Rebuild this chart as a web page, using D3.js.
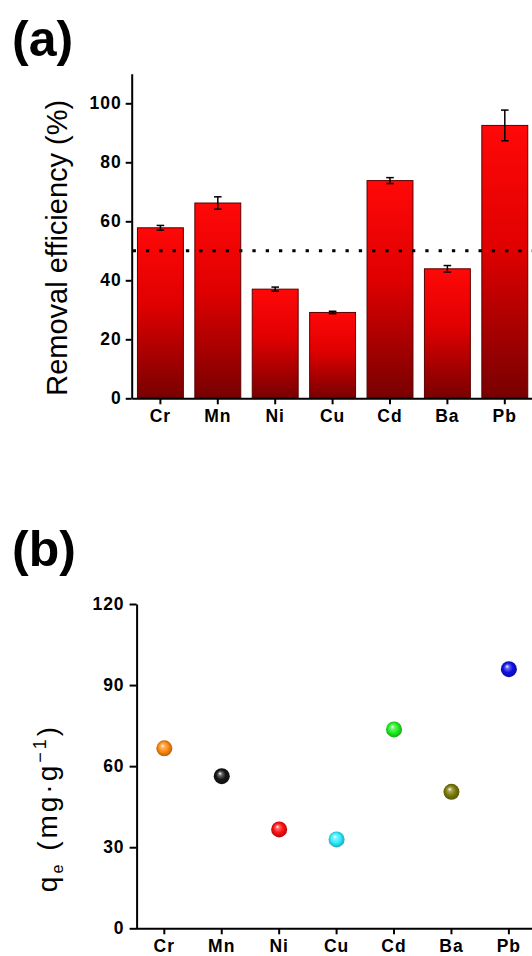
<!DOCTYPE html>
<html>
<head>
<meta charset="utf-8">
<script src="https://cdn.jsdelivr.net/npm/d3@7"></script>
<style>
  html, body { margin: 0; padding: 0; background: #fff; }
  svg { display: block; font-family: "Liberation Sans", Arial, sans-serif; }
  .tick text { font-weight: bold; font-size: 17.5px; letter-spacing: 1px; fill: #000; }
  .domain, .tick line { stroke: #000; stroke-width: 2px; }
</style>
</head>
<body>
<svg id="chart" width="532" height="956"></svg>
<script>
// data
const metals = ["Cr", "Mn", "Ni", "Cu", "Cd", "Ba", "Pb"];
const removal = [57.8, 66.2, 37.0, 29.1, 73.8, 43.9, 92.5];
const removalErr = [0.8, 2.1, 0.7, 0.4, 1.0, 1.1, 5.2];
const threshold = 50;
const qe = [66.6, 56.3, 36.6, 32.9, 73.6, 50.5, 95.9];
const dotColors = ["#ff8a10", "#151515", "#ff1010", "#30eeff", "#20f020", "#7a7a08", "#1010e8"];
const ticksA = [0, 20, 40, 60, 80, 100];
const ticksB = [0, 30, 60, 90, 120];

const svg = d3.select("#chart");
const defs = svg.append("defs");

// bar gradient (per bar, top bright -> bottom dark)
const bg = defs.append("linearGradient")
  .attr("id", "barGrad")
  .attr("x1", 0).attr("y1", 0).attr("x2", 0).attr("y2", 1);
bg.append("stop").attr("offset", "0%").attr("stop-color", "#ff0808");
bg.append("stop").attr("offset", "45%").attr("stop-color", "#e00000");
bg.append("stop").attr("offset", "100%").attr("stop-color", "#780000");

// glossy sphere gradients
dotColors.forEach((c, i) => {
  const rg = defs.append("radialGradient")
    .attr("id", "ball" + i)
    .attr("cx", "50%").attr("cy", "50%").attr("r", "55%")
    .attr("fx", "38%").attr("fy", "32%");
  rg.append("stop").attr("offset", "0%").attr("stop-color", "#ffffff");
  rg.append("stop").attr("offset", "22%").attr("stop-color", d3.interpolateRgb(c, "#fff")(0.35));
  rg.append("stop").attr("offset", "55%").attr("stop-color", c);
  rg.append("stop").attr("offset", "100%").attr("stop-color", d3.interpolateRgb(c, "#000")(0.35));
});

// ---------- panel (a) ----------
const xA = d3.scaleBand().domain(metals).range([131.7, 533.5]).paddingInner(0.2).paddingOuter(0.1);
const yA = d3.scaleLinear().domain([0, 110]).range([398.3, 73.8]);

svg.append("text")
  .attr("x", 12).attr("y", 56)
  .attr("font-size", 50).attr("font-weight", "bold")
  .text("(a)");

const gA = svg.append("g");
gA.selectAll("rect.bar")
  .data(metals)
  .join("rect")
  .attr("class", "bar")
  .attr("x", d => xA(d))
  .attr("width", xA.bandwidth())
  .attr("y", (d, i) => yA(removal[i]))
  .attr("height", (d, i) => yA(0) - yA(removal[i]))
  .attr("fill", "url(#barGrad)")
  .attr("stroke", "#5a0000")
  .attr("stroke-width", 1);

// threshold line
gA.append("line")
  .attr("x1", xA.range()[0] + 1).attr("x2", 532)
  .attr("y1", yA(threshold)).attr("y2", yA(threshold))
  .attr("stroke", "#000").attr("stroke-width", 3)
  .attr("stroke-dasharray", "3.3,10");

// error bars
const eb = gA.selectAll("g.err")
  .data(metals)
  .join("g")
  .attr("class", "err")
  .attr("transform", d => `translate(${xA(d) + xA.bandwidth() / 2},0)`);
eb.append("line")
  .attr("y1", (d, i) => yA(removal[i] + removalErr[i]))
  .attr("y2", (d, i) => yA(removal[i] - removalErr[i]))
  .attr("stroke", "#000").attr("stroke-width", 1.5);
[1, -1].forEach(s => {
  eb.append("line")
    .attr("x1", -3.8).attr("x2", 3.8)
    .attr("y1", (d, i) => yA(removal[i] + s * removalErr[i]))
    .attr("y2", (d, i) => yA(removal[i] + s * removalErr[i]))
    .attr("stroke", "#000").attr("stroke-width", 1.5);
});

gA.append("g")
  .attr("transform", `translate(0,${yA(0)})`)
  .call(d3.axisBottom(xA).tickSize(6).tickPadding(5).tickSizeOuter(0));
gA.append("g")
  .attr("transform", `translate(${xA.range()[0]},0)`)
  .call(d3.axisLeft(yA).tickValues(ticksA).tickSize(6).tickPadding(4).tickSizeOuter(0));

gA.append("text")
  .attr("transform", `translate(66.5,${(yA(0) + yA(100)) / 2 - 3}) rotate(-90)`)
  .attr("text-anchor", "middle")
  .attr("font-size", 29)
  .text("Removal efficiency (%)");

// ---------- panel (b) ----------
const xB = d3.scaleBand().domain(metals).range([135.6, 537.6]).paddingInner(0.2).paddingOuter(0.1);
const yB = d3.scaleLinear().domain([0, 120]).range([928.3, 604]);

svg.append("text")
  .attr("x", 12).attr("y", 566)
  .attr("font-size", 50).attr("font-weight", "bold")
  .text("(b)");

const gB = svg.append("g");
gB.append("g")
  .attr("transform", `translate(0,${yB(0)})`)
  .call(d3.axisBottom(xB).tickSize(6).tickPadding(5).tickSizeOuter(0));
gB.append("g")
  .attr("transform", `translate(${xB.range()[0] + 1},0)`)
  .call(d3.axisLeft(yB).tickValues(ticksB).tickSize(7).tickPadding(5).tickSizeOuter(0));

gB.selectAll("circle.ball")
  .data(metals)
  .join("circle")
  .attr("class", "ball")
  .attr("cx", d => xB(d) + xB.bandwidth() / 2)
  .attr("cy", (d, i) => yB(qe[i]))
  .attr("r", 8)
  .attr("fill", (d, i) => `url(#ball${i})`);

const tB = gB.append("text")
  .attr("transform", `translate(57,${808}) rotate(-90)`)
  .attr("text-anchor", "middle")
  .attr("font-size", 28)
  .attr("letter-spacing", 3);
tB.append("tspan").text("q");
tB.append("tspan").attr("font-size", 16).attr("dy", 6).text("e");
tB.append("tspan").attr("dy", -6).text(" (mg·g");
tB.append("tspan").attr("font-size", 18).attr("dy", -11).text("−1");
tB.append("tspan").attr("dy", 11).text(")");
</script>
</body>
</html>
